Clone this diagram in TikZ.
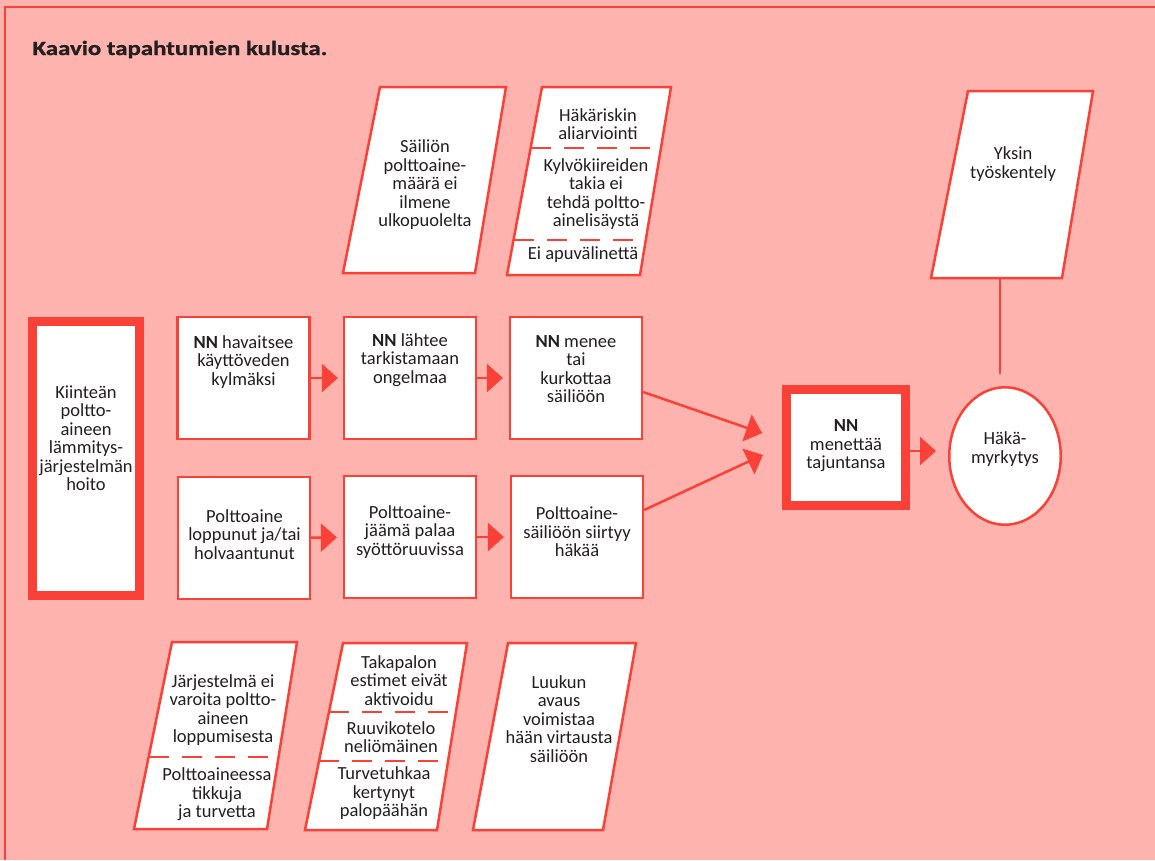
\documentclass[tikz,border=0pt]{standalone}
\usepackage{fontspec}
\setmainfont{Carlito}
\newfontfamily\titleface{Carlito}[FakeStretch=1.23, FakeBold=1.2]
\usepackage{tikz}
\usetikzlibrary{arrows.meta,shapes.geometric}

\definecolor{bgpink}{RGB}{255,179,174}
\definecolor{linered}{RGB}{250,65,55}
\definecolor{ink}{RGB}{35,31,32}

\newcommand{\diagfont}{\fontsize{18.5}{18.5}\selectfont}

\tikzset{
  stepbox/.style={draw=linered, fill=white, line width=2.2pt, minimum width=132pt, minimum height=122pt, inner sep=0pt},
  keybox/.style={draw=linered, fill=white, line width=9pt, inner sep=0pt},
  txt/.style={text=ink, align=center, font=\diagfont, inner sep=0pt},
  arr/.style={draw=linered, line width=2.5pt, -{Triangle[length=16pt,width=28pt]}},
  cutline/.style={draw=linered, line width=2pt, dash pattern=on 20pt off 13pt},
  para/.style={draw=linered, fill=white, line width=2.5pt, line join=miter}
}

\begin{document}
\begin{tikzpicture}[x=1pt,y=-1pt]

    % page and frame
    \useasboundingbox (0,0) rectangle (1155,860);
    \fill[bgpink] (0,0) rectangle (1155,860);
    \draw[linered, line width=2.5pt] (1155,7) -- (5,7) -- (5,860);

    \node[anchor=base west, text=ink, font=\titleface\bfseries\fontsize{20.2}{24}\selectfont] (title) at (29,55) {Kaavio tapahtumien kulusta.};

    % upper factors
    \draw[para] (380,87) -- (506,87) -- (475,273) -- (343,273) -- cycle;
    \node[txt] (tankinfo) at (425,185) {Säiliön\\polttoaine-\\määrä ei\\ilmene\\ulkopuolelta};

    \draw[para] (542,87) -- (671,87) -- (640,275) -- (507,275) -- cycle;
    \draw[cutline] (530.6,148) -- (661,148);
    \draw[cutline] (513.5,240) -- (645.8,240);
    \node[txt] (risk) at (598,124) {Häkäriskin\\aliarviointi};
    \node[txt] (hurry) at (596,194) {Kylvökiireiden\\takia ei\\tehdä poltto-\\ainelisäystä};
    \node[txt] (notool) at (583,255) {Ei apuvälinettä};

    \draw[para] (968,91) -- (1093,91) -- (1062,278) -- (931,278) -- cycle;
    \node[txt] (alone) at (1013,164) {Yksin\\työskentely};
    \coordinate (alone-b) at (1000,278);

    % main chain
    \node[keybox, minimum width=107pt, minimum height=274pt] (care) at (86,458.5) {};
    \node[txt] (caretxt) at (86,438) {Kiinteän\\poltto-\\aineen\\lämmitys-\\järjestelmän\\hoito};

    \node[stepbox] (b1) at (243.5,378) {};
    \node[stepbox] (b2) at (410,378) {};
    \node[stepbox] (b3) at (576,378) {};
    \node[stepbox] (b4) at (244,538) {};
    \node[stepbox] (b5) at (410,537) {};
    \node[stepbox] (b6) at (577,537) {};

    \node[txt] (t1) at (243.5,362) {\textbf{NN} havaitsee\\käyttöveden\\kylmäksi};
    \node[txt] (t2) at (410,360) {\textbf{NN} lähtee\\tarkistamaan\\ongelmaa};
    \node[txt] (t3) at (576,369) {\textbf{NN} menee\\tai\\kurkottaa\\säiliöön};
    \node[txt] (t4) at (244.5,534.5) {Polttoaine\\loppunut ja/tai\\holvaantunut};
    \node[txt] (t5) at (410,532) {Polttoaine-\\jäämä palaa\\syöttöruuvissa};
    \node[txt] (t6) at (577,532) {Polttoaine-\\säiliöön siirtyy\\häkää};

    \node[keybox, minimum width=119pt, minimum height=116pt] (faint) at (846,447.5) {};
    \node[txt] (fainttxt) at (846,446) {\textbf{NN}\\menettää\\tajuntansa};

    \node[ellipse, draw=linered, fill=white, line width=2.5pt, minimum width=111.5pt, minimum height=137.5pt, inner sep=0pt] (co) at (1005,456) {};
    \node[txt] (cotxt) at (1005,449) {Häkä-\\myrkytys};

    \draw[arr, shorten >=5pt] (b1) -- (b2);
    \draw[arr, shorten >=6pt] (b2) -- (b3);
    \draw[arr, shorten >=6pt] (b4) -- (b5);
    \draw[arr, shorten >=6pt] (b5) -- (b6);
    \draw[arr, shorten >=21pt] ([yshift=-14pt]b3.east) -- ([yshift=7.5pt]faint.west);
    \draw[arr, shorten >=21pt] ([yshift=27pt]b6.east) -- ([yshift=1.5pt]faint.west);
    \draw[arr, shorten >=12pt] ([yshift=-3.5pt]faint.east) -- ([yshift=-3.5pt]faint.east -| co.west);
    \draw[linered, line width=2.5pt, shorten >=12pt] (alone-b) -- (alone-b |- co.north);

    % lower factors
    \draw[para] (172,642) -- (297,642) -- (267,829) -- (134,829) -- cycle;
    \draw[cutline] (148.6,757) -- (278.5,757);
    \node[txt] (nowarn) at (223,710) {Järjestelmä ei\\varoita poltto-\\aineen\\loppumisesta};
    \node[txt] (sticks) at (217,794.4) {Polttoaineessa\\tikkuja\\ja turvetta};

    \draw[para] (343,643) -- (467,643) -- (437,830) -- (305,830) -- cycle;
    \draw[cutline] (329,712) -- (456,712);
    \draw[cutline] (319,761) -- (448,761);
    \node[txt] (damper) at (399,680.5) {Takapalon\\estimet eivät\\aktivoidu};
    \node[txt] (casing) at (391,737) {Ruuvikotelo\\neliömäinen};
    \node[txt] (ash) at (384,793.4) {Turvetuhkaa\\kertynyt\\palopäähän};

    \draw[para] (508,643) -- (636,643) -- (603,830) -- (473,830) -- cycle;
    \node[txt] (hatch) at (559,719) {Luukun\\avaus\\voimistaa\\hään virtausta\\säiliöön};

\end{tikzpicture}
\end{document}
